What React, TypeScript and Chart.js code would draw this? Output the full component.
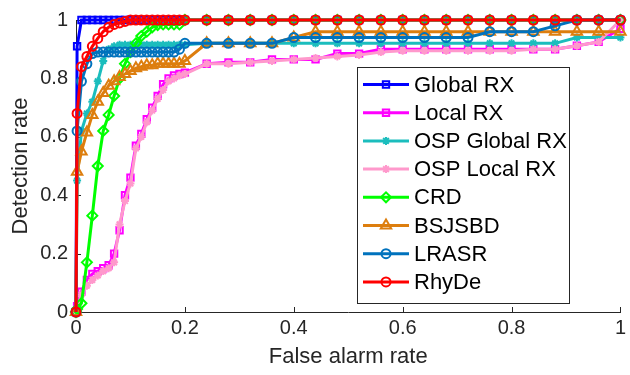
import React, { useEffect, useRef } from 'react';
import { Chart, registerables } from 'chart.js';
import { drawPoint } from 'chart.js/helpers';

Chart.register(...registerables);

// False alarm rate sample points (x)
const falseAlarm = [
  0, 0.002, 0.01, 0.02, 0.03, 0.04, 0.05, 0.06, 0.07, 0.08, 0.09, 0.1,
  0.11, 0.12, 0.13, 0.14, 0.15, 0.16, 0.17, 0.18, 0.19, 0.2,
  0.24, 0.28, 0.32, 0.36, 0.4, 0.44, 0.48, 0.52, 0.56, 0.6,
  0.64, 0.68, 0.72, 0.76, 0.8, 0.84, 0.88, 0.92, 0.96, 1.0,
];

// Detection rate per method
const globalRX = [
  0, 0.91, 1, 1, 1, 1, 1, 1, 1, 1, 1, 1,
  1, 1, 1, 1, 1, 1, 1, 1, 1, 1,
  1, 1, 1, 1, 1, 1, 1, 1, 1, 1,
  1, 1, 1, 1, 1, 1, 1, 1, 1, 1,
];
const localRX = [
  0, 0.02, 0.07, 0.11, 0.13, 0.14, 0.15, 0.16, 0.2, 0.28, 0.4, 0.46,
  0.57, 0.61, 0.66, 0.7, 0.74, 0.78, 0.8, 0.81, 0.815, 0.82,
  0.85, 0.855, 0.855, 0.865, 0.865, 0.865, 0.885, 0.885, 0.9, 0.9,
  0.9, 0.9, 0.9, 0.9, 0.9, 0.9, 0.9, 0.912, 0.925, 0.97,
];
const ospGlobalRX = [
  0, 0.45, 0.62, 0.68, 0.72, 0.79, 0.86, 0.9, 0.91, 0.915, 0.915, 0.915,
  0.915, 0.915, 0.915, 0.915, 0.915, 0.915, 0.915, 0.915, 0.915, 0.915,
  0.92, 0.92, 0.92, 0.92, 0.92, 0.92, 0.92, 0.92, 0.92, 0.92,
  0.92, 0.92, 0.92, 0.92, 0.92, 0.92, 0.92, 0.94, 0.94, 0.94,
];
const ospLocalRX = [
  0, 0.01, 0.06, 0.09, 0.11, 0.125, 0.14, 0.15, 0.17, 0.3, 0.38, 0.44,
  0.56, 0.6, 0.65, 0.69, 0.73, 0.76, 0.79, 0.8, 0.81, 0.815,
  0.85, 0.85, 0.855, 0.86, 0.865, 0.87, 0.875, 0.88, 0.89, 0.895,
  0.895, 0.895, 0.895, 0.895, 0.895, 0.9, 0.9, 0.912, 0.925, 1.0,
];
const crd = [
  0, 0.01, 0.03, 0.17, 0.33, 0.5, 0.62, 0.675, 0.74, 0.8, 0.85, 0.89,
  0.92, 0.945, 0.96, 0.975, 0.983, 0.985, 0.985, 0.985, 0.985, 1,
  1, 1, 1, 1, 1, 1, 1, 1, 1, 1,
  1, 1, 1, 1, 1, 1, 1, 1, 1, 1,
];
const bsjsbd = [
  0, 0.48, 0.55, 0.615, 0.675, 0.72, 0.75, 0.775, 0.79, 0.805, 0.815, 0.825,
  0.835, 0.84, 0.845, 0.845, 0.85, 0.85, 0.85, 0.85, 0.85, 0.86,
  0.92, 0.92, 0.92, 0.92, 0.94, 0.96, 0.96, 0.96, 0.96, 0.96,
  0.96, 0.96, 0.96, 0.96, 0.96, 0.96, 0.96, 0.96, 0.96, 0.96,
];
const lrasr = [
  0, 0.62, 0.79, 0.85, 0.885, 0.89, 0.89, 0.89, 0.89, 0.89, 0.89, 0.89,
  0.89, 0.89, 0.89, 0.89, 0.89, 0.89, 0.89, 0.89, 0.9, 0.92,
  0.92, 0.92, 0.92, 0.92, 0.94, 0.94, 0.94, 0.94, 0.94, 0.94,
  0.94, 0.94, 0.94, 0.96, 0.96, 0.96, 0.98, 1, 1, 1,
];
const rhyde = [
  0, 0.68, 0.84, 0.875, 0.91, 0.937, 0.96, 0.975, 0.985, 0.99, 0.995, 1,
  1, 1, 1, 1, 1, 1, 1, 1, 1, 1,
  1, 1, 1, 1, 1, 1, 1, 1, 1, 1,
  1, 1, 1, 1, 1, 1, 1, 1, 1, 1,
];

const seriesNames = ['Global RX', 'Local RX', 'OSP Global RX', 'OSP Local RX', 'CRD', 'BSJSBD', 'LRASR', 'RhyDe'];
const seriesValues = [globalRX, localRX, ospGlobalRX, ospLocalRX, crd, bsjsbd, lrasr, rhyde];

const axisTicks = [0, 0.2, 0.4, 0.6, 0.8, 1];
const tickLabels = ['0', '0.2', '0.4', '0.6', '0.8', '1'];

const xTitle = 'False alarm rate';
const yTitle = 'Detection rate';

const FONT = '"Liberation Sans", Arial, Helvetica, sans-serif';
const AXIS_COLOR = '#262626';

const seriesStyles = [
  { color: '#0000ff', point: 'rect', radius: 4.5 },
  { color: '#ff00ff', point: 'rect', radius: 4.5 },
  { color: '#1bbdbd', point: 'star', radius: 4 },
  { color: '#ff99cc', point: 'star', radius: 4 },
  { color: '#00ff00', point: 'rectRot', radius: 5 },
  { color: '#dd7e0e', point: 'triangle', radius: 6 },
  { color: '#0072bd', point: 'circle', radius: 4.5 },
  { color: '#ff0000', point: 'circle', radius: 4.5 },
];

const insideTicksPlugin = {
  id: 'insideTicks',
  beforeDatasetsDraw(chart: any) {
    const { ctx, chartArea, scales } = chart;
    ctx.save();
    ctx.strokeStyle = AXIS_COLOR;
    ctx.lineWidth = 1;
    ctx.beginPath();
    axisTicks.forEach((v) => {
      const px = Math.round(scales.x.getPixelForValue(v)) + 0.5;
      ctx.moveTo(px, chartArea.bottom);
      ctx.lineTo(px, chartArea.bottom - 5);
      const py = Math.round(scales.y.getPixelForValue(v)) + 0.5;
      ctx.moveTo(chartArea.left, py);
      ctx.lineTo(chartArea.left + 5, py);
    });
    ctx.stroke();
    ctx.restore();
  },
};

const legendPlugin = {
  id: 'boxLegend',
  afterDraw(chart: any) {
    const ctx = chart.ctx;
    ctx.save();
    const x0 = 357, y0 = 67, w = 212, h = 236;
    ctx.fillStyle = '#ffffff';
    ctx.fillRect(x0, y0, w, h);
    ctx.strokeStyle = AXIS_COLOR;
    ctx.lineWidth = 1;
    ctx.strokeRect(x0 + 0.5, y0 + 0.5, w, h);
    chart.data.datasets.forEach((ds: any, i: number) => {
      const y = 84.5 + i * 28.2;
      ctx.strokeStyle = ds.borderColor;
      ctx.lineWidth = ds.borderWidth;
      ctx.beginPath();
      ctx.moveTo(363, y);
      ctx.lineTo(409, y);
      ctx.stroke();
      ctx.lineWidth = ds.pointBorderWidth;
      ctx.fillStyle = 'rgba(0,0,0,0)';
      drawPoint(ctx, { pointStyle: ds.pointStyle, rotation: 0, radius: ds.pointRadius, borderWidth: ds.pointBorderWidth }, 386, y);
      ctx.fillStyle = '#000000';
      ctx.font = `22px ${FONT}`;
      ctx.textBaseline = 'middle';
      ctx.textAlign = 'left';
      ctx.fillText(ds.label, 414, y + 1);
    });
    ctx.restore();
  },
};

export default function App() {
  const canvasRef = useRef<HTMLCanvasElement | null>(null);

  useEffect(() => {
    const canvas = canvasRef.current;
    if (!canvas) return;
    const datasets = seriesNames.map((name, i) => ({
      label: name,
      data: falseAlarm.map((x, j) => ({ x, y: seriesValues[i][j] })),
      borderColor: seriesStyles[i].color,
      backgroundColor: 'rgba(0,0,0,0)',
      pointBackgroundColor: 'rgba(0,0,0,0)',
      pointBorderColor: seriesStyles[i].color,
      pointStyle: seriesStyles[i].point,
      pointRadius: seriesStyles[i].radius,
      pointBorderWidth: 2,
      borderWidth: 3,
      tension: 0,
      fill: false,
      clip: false,
      order: seriesNames.length - 1 - i,
    }));

    const chart = new Chart(canvas, {
      type: 'line',
      data: { datasets },
      plugins: [insideTicksPlugin, legendPlugin],
      options: {
        animation: false,
        responsive: false,
        devicePixelRatio: 1,
        layout: { padding: { left: 0, right: 8, top: 20, bottom: 0 } },
        plugins: { legend: { display: false }, tooltip: { enabled: false } },
        scales: {
          x: {
            type: 'linear',
            min: 0,
            max: 1,
            afterBuildTicks: (s: any) => { s.ticks = axisTicks.map((v) => ({ value: v })); },
            afterFit: (s: any) => { s.height = 63; },
            ticks: {
              callback: (_v: any, i: number) => tickLabels[i],
              color: AXIS_COLOR,
              font: { size: 20, family: FONT },
              padding: 4,
              maxRotation: 0,
              autoSkip: false,
            },
            grid: { display: false, drawTicks: false },
            border: { display: true, color: AXIS_COLOR, width: 1 },
            title: {
              display: true,
              text: xTitle,
              color: AXIS_COLOR,
              font: { size: 22, family: FONT },
              padding: { top: 0, bottom: 5 },
            },
          },
          y: {
            type: 'linear',
            min: 0,
            max: 1,
            afterBuildTicks: (s: any) => { s.ticks = axisTicks.map((v) => ({ value: v })); },
            afterFit: (s: any) => { s.width = 76; },
            ticks: {
              callback: (_v: any, i: number) => tickLabels[i],
              color: AXIS_COLOR,
              font: { size: 20, family: FONT },
              padding: 8,
              autoSkip: false,
            },
            grid: { display: false, drawTicks: false },
            border: { display: true, color: AXIS_COLOR, width: 1 },
            title: {
              display: true,
              text: yTitle,
              color: AXIS_COLOR,
              font: { size: 22, family: FONT },
              padding: { top: 8, bottom: 0 },
            },
          },
        },
      } as any,
    });
    return () => chart.destroy();
  }, []);

  return (
    <div style={{ position: 'absolute', left: 0, top: 0, width: 630, height: 375, background: '#ffffff' }}>
      <canvas ref={canvasRef} width={630} height={375} style={{ display: 'block', width: 630, height: 375 }} />
    </div>
  );
}
